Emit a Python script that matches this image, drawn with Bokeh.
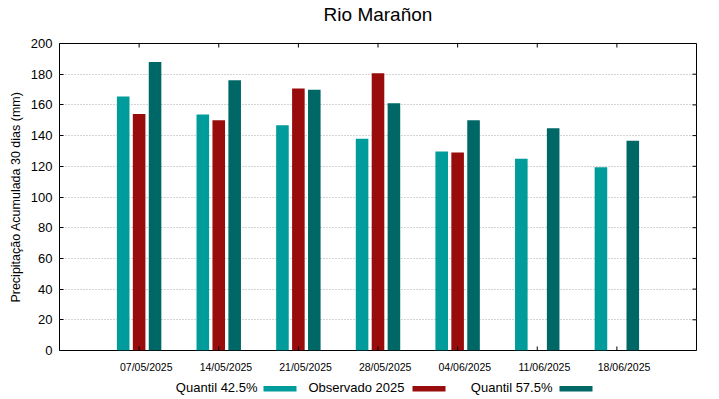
from bokeh.plotting import figure
from bokeh.layouts import column
from bokeh.models import (ColumnDataSource, Range1d, LinearAxis, FixedTicker, Grid,
                          Label, BoxAnnotation, CustomJSTickFormatter)
from bokeh.transform import dodge
from bokeh.embed import file_html
from bokeh.resources import INLINE

# ---- data ----
dates = ["07/05/2025", "14/05/2025", "21/05/2025", "28/05/2025",
         "04/06/2025", "11/06/2025", "18/06/2025"]
quantil_425 = [165.5, 153.7, 146.8, 138.0, 129.6, 125.0, 119.4]
observado_2025 = [154.0, 150.0, 170.7, 180.7, 129.0, float("nan"), float("nan")]
quantil_575 = [188.0, 176.0, 169.8, 161.0, 150.0, 144.8, 136.6]
y_ticks = [0, 20, 40, 60, 80, 100, 120, 140, 160, 180, 200]
series_names = ["Quantil 42.5%", "Observado 2025", "Quantil 57.5%"]
title_text = "Rio Marañon"

positions = list(range(1, len(dates) + 1))
x_max = len(dates) + 1
y_max = y_ticks[-1]

FONT = "Liberation Sans"
colors = ["#009b9b", "#990c0c", "#006767"]

W = 719
TITLE_H, MAIN_H, LEG_H = 31, 345, 23
ML, MR, MT, MB = 59, 23, 12, 26
FRAME_W = W - ML - MR


def blank_strip(height):
    f = figure(width=W, height=height, x_range=Range1d(0, FRAME_W), y_range=Range1d(0, height),
               x_axis_location=None, y_axis_location=None, toolbar_location=None,
               output_backend="svg", min_border=0)
    f.center = [c for c in f.center if not isinstance(c, Grid)]
    f.outline_line_color = None
    f.background_fill_color = "white"
    f.border_fill_color = "white"
    return f


# ---- title strip (its frame is aligned with the main frame by the column) ----
t_fig = blank_strip(TITLE_H)
t_fig.add_layout(Label(x=FRAME_W / 2, y=TITLE_H - 13.5, x_units="screen",
                       y_units="screen", text=title_text, text_align="center",
                       text_baseline="middle", text_font=FONT, text_font_size="19px",
                       text_color="black"))

# ---- main plot ----
p = figure(width=W, height=MAIN_H,
           x_range=Range1d(0, x_max), y_range=Range1d(0, y_max),
           x_axis_location=None, y_axis_location=None,
           toolbar_location=None, output_backend="svg",
           min_border_left=ML, min_border_right=MR,
           min_border_top=MT, min_border_bottom=MB)
p.center = [c for c in p.center if not isinstance(c, Grid)]
p.outline_line_color = "black"
p.outline_line_alpha = 1.0
p.outline_line_width = 1
p.background_fill_color = "white"
p.border_fill_color = "white"

grid = Grid(dimension=1, ticker=FixedTicker(ticks=y_ticks[1:-1]),
            grid_line_color="#a8a8a8", grid_line_dash="1 2", grid_line_width=1)
p.add_layout(grid)

src = ColumnDataSource(dict(pos=positions, q425=quantil_425,
                            obs=observado_2025, q575=quantil_575))
bw = 0.158
for field, off, col in zip(["q425", "obs", "q575"], [-0.2, 0.0, 0.2], colors):
    p.vbar(x=dodge("pos", off), top=field, width=bw, bottom=0,
           source=src, fill_color=col, line_color=None)

# mirrored inward tick marks (half of each dash is clipped by the frame)
tick_src_x = ColumnDataSource(dict(x=positions, top=[y_max] * len(positions),
                                   bot=[0] * len(positions)))
tick_src_y = ColumnDataSource(dict(y=y_ticks, right=[x_max] * len(y_ticks)))
p.scatter(x="x", y="top", source=tick_src_x, marker="dash", size=8, angle=1.5708,
          line_color="black", line_width=1)
p.scatter(x="x", y="bot", source=tick_src_x, marker="dash", size=8, angle=1.5708,
          line_color="black", line_width=1)
p.scatter(x="right", y="y", source=tick_src_y, marker="dash", size=8,
          line_color="black", line_width=1)

label_ticks = [x + 0.09 for x in positions]
lab_axis = LinearAxis(ticker=FixedTicker(ticks=label_ticks),
                      formatter=CustomJSTickFormatter(args=dict(labels=dates), code="""
                          const i = Math.round(tick) - 1;
                          return (i >= 0 && i < labels.length) ? labels[i] : '';
                      """),
                      major_tick_in=0, major_tick_out=0, minor_tick_line_color=None,
                      major_tick_line_color=None, axis_line_color=None,
                      major_label_standoff=10, major_label_text_font=FONT,
                      major_label_text_font_size="10.5px", major_label_text_color="black")
p.add_layout(lab_axis, "below")

left_axis = LinearAxis(ticker=FixedTicker(ticks=y_ticks),
                       axis_label="Precipitação Acumulada 30 dias (mm)",
                       axis_label_text_font=FONT, axis_label_text_font_size="12.5px",
                       axis_label_text_font_style="normal", axis_label_text_color="black",
                       axis_label_standoff=5,
                       major_label_text_font=FONT, major_label_text_font_size="13px",
                       major_label_text_color="black", major_label_standoff=7,
                       major_tick_in=4, major_tick_out=0, minor_tick_line_color=None,
                       axis_line_color=None, major_tick_line_color="black")
p.add_layout(left_axis, "left")

# ---- legend strip: text followed by a swatch (x relative to the aligned frame) ----
l_fig = blank_strip(LEG_H)
text_right = [257 - ML, 404 - ML, 552 - ML]
sw_left = [263 - ML, 412 - ML, 559 - ML]
sw_w = 33
text_y = 12
for name, col, tr, sl in zip(series_names, colors, text_right, sw_left):
    l_fig.add_layout(Label(x=tr, y=text_y, x_units="screen", y_units="screen", text=name,
                           text_align="right", text_baseline="middle", text_font=FONT,
                           text_font_size="13px", text_color="black"))
    l_fig.add_layout(BoxAnnotation(left=sl, right=sl + sw_w, bottom=8, top=13.5,
                                   left_units="screen", right_units="screen",
                                   bottom_units="screen", top_units="screen",
                                   fill_color=col, fill_alpha=1.0, line_color=None))

layout = column(t_fig, p, l_fig, spacing=0)
open("out.html", "w").write(file_html(layout, INLINE))
